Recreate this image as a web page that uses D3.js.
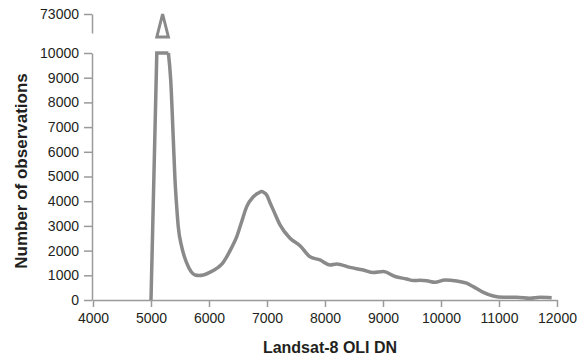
<!DOCTYPE html>
<html><head><meta charset="utf-8">
<script src="https://cdn.jsdelivr.net/npm/d3@7"></script>
<style>
html,body{margin:0;padding:0;background:#fff;}
text{font-family:"Liberation Sans",Arial,Helvetica,sans-serif;fill:#231f20;}
</style></head>
<body>
<svg id="chart" width="577" height="357"></svg>
<script>
const dn = [5000,5100,5200,5300,5340,5385,5414,5443,5470,5529,5615,5690,5759,5830,5902,6020,6133,6220,6305,6390,6477,6560,6650,6764,6850,6908,6960,6994,7050,7109,7224,7397,7569,7741,7914,8086,8201,8431,8661,8833,9006,9207,9408,9523,9640,9753,9897,10069,10270,10442,10557,10730,10902,11075,11305,11534,11707,11908];
const counts = [0,10000,73000,10000,8900,6480,4860,3780,2970,2160,1500,1150,1010,990,1010,1130,1280,1450,1750,2120,2560,3150,3780,4180,4330,4390,4330,4250,3950,3640,3040,2500,2200,1750,1620,1420,1460,1320,1215,1110,1150,950,850,785,800,780,720,810,770,680,540,310,160,110,110,70,110,95];
const xTicks = [4000,5000,6000,7000,8000,9000,10000,11000,12000];
const yTicksLow = [0,1000,2000,3000,4000,5000,6000,7000,8000,9000,10000];
const yTicksTop = [73000];
const breakValue = 10000;

const svg = d3.select("#chart");
const axisColor = "#9a9a9a";
const lineColor = "#8a8a8a";

const x = d3.scaleLinear().domain([4000,12000]).range([93,557]);
const yLow = d3.scaleLinear().domain([0,10000]).range([300,53]).clamp(true);
const yTop = d3.scaleLinear().domain([10000,73000]).range([37,14]);

const data = dn.map((d,i)=>({x:d,y:counts[i]}));

// x axis
const gx = svg.append("g").attr("transform","translate(0,300)")
  .call(d3.axisBottom(x).tickValues(xTicks).tickSize(7).tickSizeOuter(0).tickPadding(6).tickFormat(d3.format("d")));
// y axis lower
const gy = svg.append("g").attr("transform","translate(92,0)")
  .call(d3.axisLeft(yLow).tickValues(yTicksLow).tickSize(8).tickSizeOuter(0).tickPadding(5).tickFormat(d3.format("d")));
// y axis upper segment
const yTopAxis = d3.scaleLinear().domain([yTop.invert(33),73000]).range([33,14]);
const gy2 = svg.append("g").attr("transform","translate(92,0)")
  .call(d3.axisLeft(yTopAxis).tickValues(yTicksTop).tickSize(8).tickSizeOuter(0).tickPadding(5).tickFormat(d3.format("d")));

[gx,gy,gy2].forEach(g=>{
  g.selectAll("path.domain").attr("stroke",axisColor).attr("stroke-width",1.5);
  g.selectAll(".tick line").attr("stroke",axisColor).attr("stroke-width",1.5);
  g.selectAll(".tick text").style("font-size","14px").attr("fill","#231f20")
   .style("font-family","'Liberation Sans',Arial,sans-serif");
});

// lower line: sharp clipped peak (linear), smooth remainder (monotone)
const peakEnd = 3;
const lineLin = d3.line().x(d=>x(d.x)).y(d=>yLow(d.y));
const lineLow = d3.line().x(d=>x(d.x)).y(d=>yLow(d.y)).curve(d3.curveMonotoneX);
svg.append("path").attr("d",lineLin(data.slice(0,peakEnd+1)))
  .attr("fill","none").attr("stroke",lineColor).attr("stroke-width",3.5).attr("stroke-linejoin","miter");
svg.append("path").attr("d",lineLow(data.slice(peakEnd)))
  .attr("fill","none").attr("stroke",lineColor).attr("stroke-width",3.5).attr("stroke-linejoin","round");

// upper peak (values at or above break)
const topData = data.filter(d=>d.y>=breakValue);
const lineTop = d3.line().x(d=>x(d.x)).y(d=>yTop(d.y));
svg.append("path").attr("d",lineTop(topData)+"Z")
  .attr("fill","none").attr("stroke",lineColor).attr("stroke-width",3).attr("stroke-linejoin","miter");

// titles
svg.append("text").attr("x",330).attr("y",353).attr("text-anchor","middle")
  .style("font-size","16px").style("font-weight","bold").text("Landsat-8 OLI DN");
svg.append("text").attr("transform","translate(27,171) rotate(-90)").attr("text-anchor","middle")
  .style("font-size","17px").style("font-weight","bold").text("Number of observations");
</script>
</body></html>
